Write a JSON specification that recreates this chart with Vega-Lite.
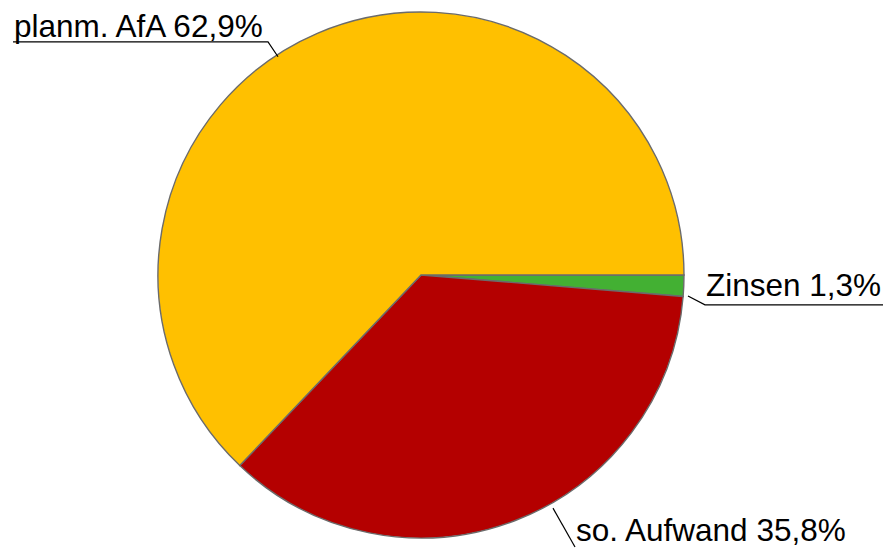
{
  "$schema": "https://vega.github.io/schema/vega-lite/v6.json",
  "width": 887,
  "height": 550,
  "autosize": {"type": "fit", "contains": "padding"},
  "padding": 0,
  "background": "white",
  "view": {"stroke": null},
  "config": {"font": "Liberation Sans"},
  "datasets": {
    "slices": [
      {"category": "Zinsen", "value": 1.3, "rank": 1},
      {"category": "so. Aufwand", "value": 35.8, "rank": 2},
      {"category": "planm. AfA", "value": 62.9, "rank": 3}
    ],
    "leaders": [
      {"label": "planm. AfA", "pt": 1, "x": -1.5513, "y": 0.8897},
      {"label": "planm. AfA", "pt": 2, "x": -0.5817, "y": 0.8897},
      {"label": "planm. AfA", "pt": 3, "x": -0.5437, "y": 0.8327},
      {"label": "Zinsen", "pt": 1, "x": 1.0152, "y": -0.0798},
      {"label": "Zinsen", "pt": 2, "x": 1.0798, "y": -0.1141},
      {"label": "Zinsen", "pt": 3, "x": 1.7567, "y": -0.1141},
      {"label": "so. Aufwand", "pt": 1, "x": 0.5019, "y": -0.8897},
      {"label": "so. Aufwand", "pt": 2, "x": 0.5856, "y": -1.038}
    ],
    "labels": [
      {"text": "planm. AfA 62,9%", "x": -1.5475, "y": 0.9099},
      {"text": "Zinsen 1,3%", "x": 1.0837, "y": -0.081},
      {"text": "so. Aufwand 35,8%", "x": 0.5894, "y": -1.0164}
    ]
  },
  "layer": [
    {
      "data": {"name": "slices"},
      "mark": {"type": "arc", "outerRadius": 263, "stroke": "#6b6b6b", "strokeWidth": 1.4},
      "encoding": {
        "x": {"datum": 0, "type": "quantitative", "scale": {"domain": [-1.6008, 1.7719], "nice": false, "zero": false}, "axis": null},
        "y": {"datum": 0, "type": "quantitative", "scale": {"domain": [-1.0418, 1.0494], "nice": false, "zero": false}, "axis": null},
        "theta": {"field": "value", "type": "quantitative", "stack": true, "scale": {"range": [1.5708, 7.8540]}},
        "order": {"field": "rank", "type": "quantitative"},
        "color": {
          "field": "category", "type": "nominal", "legend": null,
          "scale": {"domain": ["Zinsen", "so. Aufwand", "planm. AfA"], "range": ["#43B033", "#B40000", "#FFC000"]}
        }
      }
    },
    {
      "data": {"name": "leaders"},
      "mark": {"type": "line", "color": "#000000", "strokeWidth": 1.2},
      "encoding": {
        "x": {"field": "x", "type": "quantitative"},
        "y": {"field": "y", "type": "quantitative"},
        "detail": {"field": "label"},
        "order": {"field": "pt", "type": "quantitative"}
      }
    },
    {
      "data": {"name": "labels"},
      "mark": {"type": "text", "align": "left", "baseline": "alphabetic", "fontSize": 31.5, "color": "#000000"},
      "encoding": {
        "x": {"field": "x", "type": "quantitative"},
        "y": {"field": "y", "type": "quantitative"},
        "text": {"field": "text"}
      }
    }
  ]
}
